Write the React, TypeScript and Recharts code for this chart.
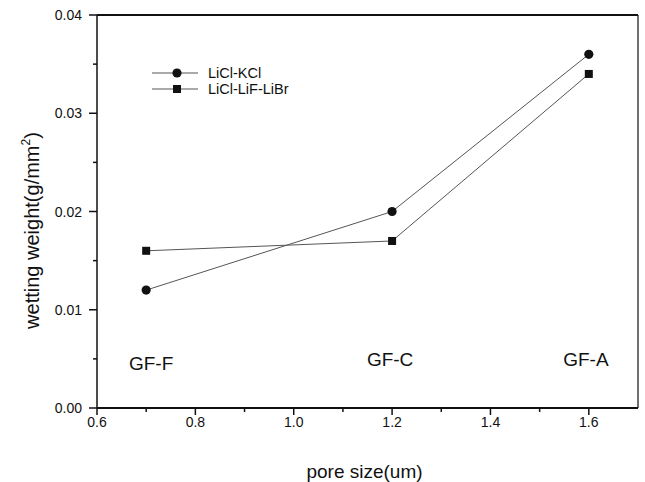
import React from 'react';
import { LineChart, Line, XAxis, YAxis, ReferenceDot, ReferenceLine } from 'recharts';

const poreSize = [0.7, 1.2, 1.6];
const liclKcl = [0.012, 0.02, 0.036];
const liclLifLibr = [0.016, 0.017, 0.034];
const seriesNames = ['LiCl-KCl', 'LiCl-LiF-LiBr'];

const xTicks = [0.6, 0.7, 0.8, 0.9, 1.0, 1.1, 1.2, 1.3, 1.4, 1.5, 1.6];
const xMajorTicks = [0.6, 0.8, 1.0, 1.2, 1.4, 1.6];
const yTicks = [0, 0.005, 0.01, 0.015, 0.02, 0.025, 0.03, 0.035, 0.04];
const yMajorTicks = [0, 0.01, 0.02, 0.03, 0.04];

const annotationLabels = ['GF-F', 'GF-C', 'GF-A'];
const annotationX = [0.71, 1.196, 1.594];
const annotationY = [0.0046, 0.005, 0.005];

const data = poreSize.map((x, i) => ({ x, kcl: liclKcl[i], libr: liclLifLibr[i] }));

const FONT = '"Liberation Sans", Arial, Helvetica, sans-serif';
const INK = '#111';
const LINE = '#555';

const isIn = (arr: number[], v: number) => arr.some((m) => Math.abs(m - v) < 1e-9);

const XTick = (props: any) => {
  const { x, y, payload } = props;
  const v = payload.value as number;
  const major = isIn(xMajorTicks, v);
  return (
    <g>
      <line x1={x} x2={x} y1={y} y2={y + (major ? 7 : 4)} stroke={INK} strokeWidth={1.5} />
      {major && (
        <text x={x} y={y + 19} textAnchor="middle" fontSize={14} fill={INK} fontFamily={FONT}>
          {v.toFixed(1)}
        </text>
      )}
    </g>
  );
};

const YTick = (props: any) => {
  const { x, y, payload } = props;
  const v = payload.value as number;
  const major = isIn(yMajorTicks, v);
  return (
    <g>
      <line x1={x - (major ? 8 : 4)} x2={x} y1={y} y2={y} stroke={INK} strokeWidth={1.5} />
      {major && (
        <text x={x - 15} y={y} dy={5} textAnchor="end" fontSize={14} fill={INK} fontFamily={FONT}>
          {v.toFixed(2)}
        </text>
      )}
    </g>
  );
};

const YTitle = (props: any) => {
  const vb = props.viewBox || {};
  const cx = vb.x + 2;
  const cy = vb.y + vb.height / 2 + 19;
  return (
    <text
      x={cx}
      y={cy}
      transform={`rotate(-90, ${cx}, ${cy})`}
      textAnchor="middle"
      fontSize={20}
      fill={INK}
      fontFamily={FONT}
    >
      <tspan>wetting weight(g/mm</tspan>
      <tspan fontSize={12} dy={-9}>2</tspan>
      <tspan dy={9}>)</tspan>
    </text>
  );
};

const XTitle = (props: any) => {
  const vb = props.viewBox || {};
  const cx = vb.x + vb.width / 2 - 3;
  const cy = vb.y + 70;
  return (
    <text x={cx} y={cy} textAnchor="middle" fontSize={19} fill={INK} fontFamily={FONT}>
      pore size(um)
    </text>
  );
};

const CircleDot = (props: any) => {
  const { cx, cy } = props;
  if (cx == null || cy == null) return null;
  return <circle cx={cx} cy={cy} r={4.6} fill={INK} />;
};

const SquareDot = (props: any) => {
  const { cx, cy } = props;
  if (cx == null || cy == null) return null;
  return <rect x={cx - 4} y={cy - 4} width={8} height={8} fill={INK} />;
};

const LegendBox = () => (
  <div style={{ position: 'absolute', left: 152, top: 65, fontFamily: FONT, fontSize: 14.5, color: INK }}>
    {seriesNames.map((name, i) => (
      <div key={name} style={{ display: 'flex', alignItems: 'center', height: 16 }}>
        <svg width={46} height={16} style={{ display: 'block' }}>
          <line x1={0} x2={46} y1={8} y2={8} stroke={LINE} strokeWidth={1} />
          {i === 0 ? (
            <circle cx={25} cy={8} r={4.6} fill={INK} />
          ) : (
            <rect x={21} y={4} width={8} height={8} fill={INK} />
          )}
        </svg>
        <span style={{ marginLeft: 10, lineHeight: '16px', whiteSpace: 'nowrap' }}>{name}</span>
      </div>
    ))}
  </div>
);

export default function App() {
  return (
    <div style={{ position: 'absolute', left: 0, top: 0, width: 645, height: 482, background: '#fff' }}>
      <LineChart
        width={645}
        height={482}
        data={data}
        margin={{ top: 15, right: 7, bottom: 44, left: 37 }}
        style={{ fontFamily: FONT }}
      >
        <XAxis
          dataKey="x"
          type="number"
          domain={[0.6, 1.7]}
          ticks={xTicks}
          interval={0}
          tickSize={0}
          tickMargin={0}
          tickLine={false}
          tick={<XTick />}
          height={30}
          axisLine={{ stroke: INK, strokeWidth: 2 }}
          label={<XTitle />}
        />
        <YAxis
          type="number"
          domain={[0, 0.04]}
          ticks={yTicks}
          interval={0}
          tickSize={0}
          tickMargin={0}
          tickLine={false}
          tick={<YTick />}
          width={60}
          axisLine={{ stroke: INK, strokeWidth: 1.5 }}
          label={<YTitle />}
        />
        <ReferenceLine y={0.04} stroke={INK} strokeWidth={2} />
        <ReferenceLine x={1.7} stroke={INK} strokeWidth={1.2} />
        {annotationLabels.map((lab, i) => (
          <ReferenceDot
            key={lab}
            x={annotationX[i]}
            y={annotationY[i]}
            r={0}
            fill="none"
            stroke="none"
            label={{ value: lab, position: 'center', fontSize: 19, fill: INK, fontFamily: FONT }}
          />
        ))}
        <Line
          type="linear"
          dataKey="kcl"
          name={seriesNames[0]}
          stroke={LINE}
          strokeWidth={1}
          dot={<CircleDot />}
          activeDot={false}
          isAnimationActive={false}
        />
        <Line
          type="linear"
          dataKey="libr"
          name={seriesNames[1]}
          stroke={LINE}
          strokeWidth={1}
          dot={<SquareDot />}
          activeDot={false}
          isAnimationActive={false}
        />
      </LineChart>
      <LegendBox />
    </div>
  );
}
